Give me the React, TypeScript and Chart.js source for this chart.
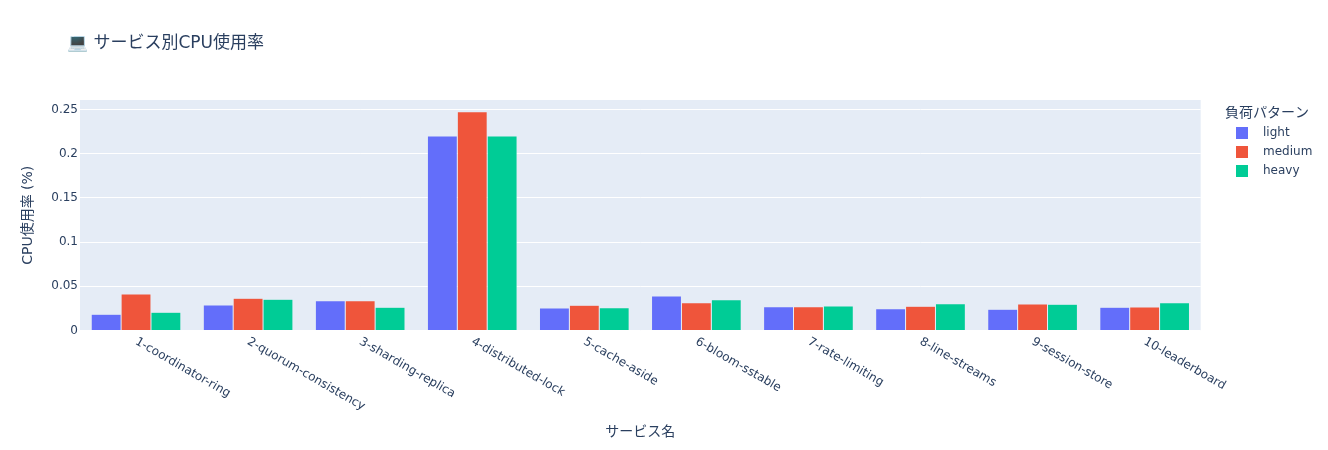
import React, { useEffect, useRef } from "react";
import { Chart, registerables } from "chart.js";

Chart.register(...registerables);

const categories = [
  "1-coordinator-ring",
  "2-quorum-consistency",
  "3-sharding-replica",
  "4-distributed-lock",
  "5-cache-aside",
  "6-bloom-sstable",
  "7-rate-limiting",
  "8-line-streams",
  "9-session-store",
  "10-leaderboard",
];
const light = [0.0183, 0.0288, 0.0337, 0.22, 0.0255, 0.039, 0.027, 0.0247, 0.024, 0.0262];
const medium = [0.0413, 0.0364, 0.0337, 0.2475, 0.0285, 0.0315, 0.027, 0.0274, 0.03, 0.0266];
const heavy = [0.0206, 0.0353, 0.0262, 0.22, 0.0258, 0.0349, 0.0277, 0.0303, 0.0296, 0.0315];
const yTicks = [0, 0.05, 0.1, 0.15, 0.2, 0.25];

const FONT = '"DejaVu Sans", "Noto Sans CJK JP", sans-serif';
const INK = "#2a3f5f";

function swatch(color: string) {
  const c = document.createElement("canvas");
  c.width = 12;
  c.height = 12;
  const g = c.getContext("2d")!;
  g.fillStyle = color;
  g.fillRect(0, 0, 12, 12);
  return c;
}

const plotBackground = {
  id: "plotBackground",
  beforeDraw(chart: any) {
    const { ctx, chartArea: a } = chart;
    ctx.save();
    ctx.fillStyle = "#E5ECF6";
    ctx.fillRect(a.left, a.top, a.right - a.left, a.bottom - a.top);
    ctx.restore();
  },
};

const placeBlocks = {
  id: "placeBlocks",
  afterLayout(chart: any) {
    chart.titleBlock.left = 67;
    const lg = chart.legend;
    const w = lg.right - lg.left;
    const h = lg.bottom - lg.top;
    lg.left = 1220;
    lg.right = 1220 + w;
    lg.width = 94;
    lg.top = 106;
    lg.bottom = 106 + h;
    lg.adjustHitBoxes();
  },
};

export default function App() {
  const ref = useRef<HTMLCanvasElement>(null);
  useEffect(() => {
    document.body.style.margin = "0";
    const chart = new Chart(ref.current!, {
      type: "bar",
      data: {
        labels: categories,
        datasets: [
          { label: "light", data: light, backgroundColor: "#636EFA" },
          { label: "medium", data: medium, backgroundColor: "#EF553B" },
          { label: "heavy", data: heavy, backgroundColor: "#00CC96" },
        ].map((d) => ({
          ...d,
          borderColor: "#E5ECF6",
          borderWidth: 0.5,
          barPercentage: 1,
          categoryPercentage: 0.8,
        })),
      },
      plugins: [plotBackground, placeBlocks],
      options: {
        responsive: false,
        animation: false,
        layout: { padding: { top: 0, left: 0, right: 25, bottom: 0 } },
        plugins: {
          tooltip: { enabled: false },
          title: {
            display: true,
            text: "💻 サービス別CPU使用率",
            align: "start",
            color: INK,
            font: { family: FONT, size: 17, weight: "normal" },
            padding: { top: 33, bottom: 46.6 },
          },
          legend: {
            position: "right",
            align: "start",
            title: {
              display: true,
              text: "負荷パターン",
              position: "center",
              color: INK,
              font: { family: FONT, size: 14 },
              padding: { top: 0, bottom: -3 },
            },
            labels: {
              color: INK,
              usePointStyle: true,
              pointStyleWidth: 30,
              boxHeight: 12,
              padding: 7,
              font: { family: FONT, size: 12 },
              generateLabels(c: any) {
                return c.data.datasets.map((d: any, i: number) => ({
                  text: d.label,
                  fontColor: INK,
                  pointStyle: swatch(d.backgroundColor),
                  datasetIndex: i,
                  lineWidth: 0,
                }));
              },
            },
          },
        },
        scales: {
          x: {
            grid: { display: false },
            border: { display: false },
            afterDataLimits(scale: any) {
              scale._getXAxisLabelAlignment = () => "left";
            },
            afterFit(scale: any) {
              scale.height = 119.5;
            },
            ticks: {
              autoSkip: false,
              minRotation: -30,
              maxRotation: -30,
              color: INK,
              padding: -4,
              font: { family: FONT, size: 12 },
            },
            title: {
              display: true,
              text: "サービス名",
              color: INK,
              font: { family: FONT, size: 14 },
              padding: { top: 0, bottom: 9 },
            },
          },
          y: {
            min: 0,
            max: 0.2607,
            afterBuildTicks(scale: any) {
              scale.ticks = yTicks.map((value) => ({ value }));
            },
            afterFit(scale: any) {
              scale.width = 80;
            },
            grid: { color: "#ffffff", lineWidth: 1, drawTicks: false },
            border: { display: false },
            ticks: {
              color: INK,
              padding: 2,
              font: { family: FONT, size: 12 },
              callback: (v: any) => String(v),
            },
            title: {
              display: true,
              text: "CPU使用率 (%)",
              color: INK,
              font: { family: FONT, size: 14 },
              padding: { top: 20, bottom: 0 },
            },
          },
        },
      } as any,
    });
    return () => chart.destroy();
  }, []);
  return <canvas ref={ref} width={1328} height={450} style={{ display: "block" }} />;
}
